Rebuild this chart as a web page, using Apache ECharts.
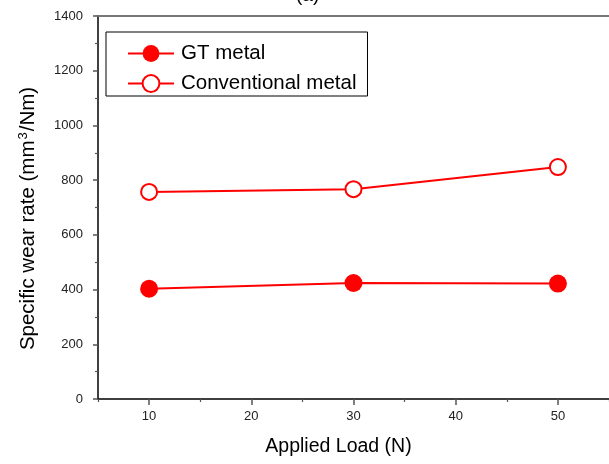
<!DOCTYPE html>
<html>
<head>
<meta charset="utf-8">
<script src="https://cdn.jsdelivr.net/npm/echarts@6/dist/echarts.min.js"></script>
<style>
html,body{margin:0;padding:0;background:#fff;}
#c{width:609px;height:464px;}
</style>
</head>
<body>
<div id="c"></div>
<script>
const loads = [10, 30, 50];
const gtMetal = [403, 424, 422];
const conventionalMetal = [757, 767, 848];
const xMajorTicks = [10, 20, 30, 40, 50];
const xMinorTicks = [5, 15, 25, 35, 45, 55];
const seriesNames = ['GT metal', 'Conventional metal'];

const font = '"Liberation Sans", Arial, sans-serif';
const red = '#ff0000';

const chart = echarts.init(document.getElementById('c'), null, {renderer: 'canvas'});
chart.setOption({
  animation: false,
  backgroundColor: '#ffffff',
  title: {
    text: '(a)',
    left: 291,
    top: -19,
    textStyle: {fontFamily: font, fontSize: 19, fontWeight: 'normal', color: '#000'}
  },
  grid: {left: 98, right: -2, top: 16, bottom: 65},
  legend: {
    orient: 'vertical',
    left: 106,
    top: 32,
    data: seriesNames,
    itemWidth: 46,
    itemHeight: 21,
    itemGap: 9,
    padding: [11, 11, 2, 21],
    borderColor: '#000',
    borderWidth: 1,
    textStyle: {fontFamily: font, fontSize: 20.5, color: '#000', padding: [0, 0, 0, 2]}
  },
  xAxis: [
    {
      type: 'value', position: 'bottom', min: 5, max: 55,
      name: 'Applied Load (N)', nameLocation: 'middle', nameGap: 38,
      nameTextStyle: {fontFamily: font, fontSize: 19.5, color: '#000', padding: [0, 30, 0, 0]},
      axisLine: {show: true, lineStyle: {color: '#000', width: 1.5}},
      axisTick: {show: true, customValues: xMajorTicks, length: 6, lineStyle: {color: '#555', width: 1.5}},
      axisLabel: {customValues: xMajorTicks, margin: 11, fontFamily: font, fontSize: 13, color: '#222'},
      splitLine: {show: false}
    },
    {
      type: 'value', position: 'bottom', min: 5, max: 55,
      axisLine: {show: false},
      axisTick: {show: true, customValues: xMinorTicks, length: 3, lineStyle: {color: '#555', width: 1.2}},
      axisLabel: {show: false},
      splitLine: {show: false}
    },
    {
      type: 'value', position: 'top', min: 5, max: 55,
      axisLine: {show: true, lineStyle: {color: '#777', width: 2}},
      axisTick: {show: false},
      axisLabel: {show: false},
      splitLine: {show: false}
    }
  ],
  yAxis: {
    type: 'value', min: 0, max: 1400, interval: 200,
    name: 'Specific wear rate (mm{sup|3}/Nm)', nameLocation: 'middle', nameGap: 58,
    nameTextStyle: {
      fontFamily: font, fontSize: 20.5, color: '#000', padding: [0, 22, 0, 0],
      rich: {sup: {fontFamily: font, fontSize: 13, color: '#000', verticalAlign: 'top', padding: [0, 1, 10, 1]}}
    },
    axisLine: {show: true, lineStyle: {color: '#000', width: 1.5}},
    axisTick: {show: true, length: 5, lineStyle: {color: '#555', width: 1.5}},
    minorTick: {show: true, splitNumber: 2, length: 3, lineStyle: {color: '#555', width: 1.2}},
    axisLabel: {margin: 15, fontFamily: font, fontSize: 13, color: '#222', formatter: v => String(v)},
    splitLine: {show: false}
  },
  series: [
    {
      name: seriesNames[0], type: 'line', xAxisIndex: 0,
      data: loads.map((x, i) => [x, gtMetal[i]]),
      symbol: 'circle', symbolSize: 18,
      lineStyle: {color: red, width: 2},
      itemStyle: {color: red}
    },
    {
      name: seriesNames[1], type: 'line', xAxisIndex: 0,
      data: loads.map((x, i) => [x, conventionalMetal[i]]),
      symbol: 'emptyCircle', symbolSize: 16,
      lineStyle: {color: red, width: 2},
      itemStyle: {color: red, borderWidth: 2.5}
    }
  ]
});
</script>
</body>
</html>
